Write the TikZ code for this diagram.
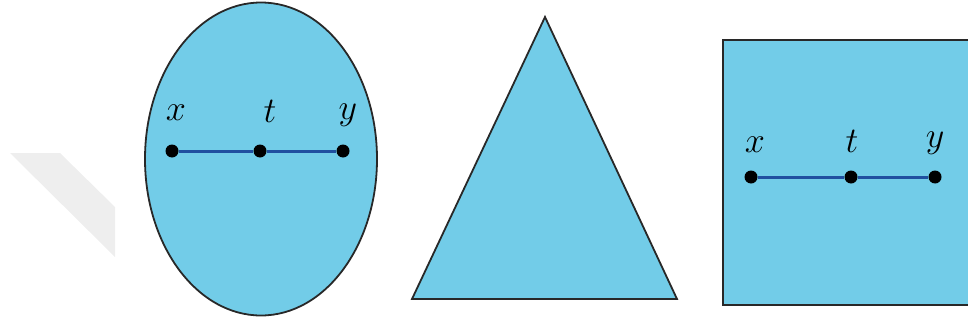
\documentclass[tikz,border=0pt]{standalone}
\usetikzlibrary{shapes.geometric}
\definecolor{shapefill}{RGB}{114,204,232}
\definecolor{segblue}{RGB}{32,80,160}
\definecolor{outline}{RGB}{40,40,40}
\definecolor{wmark}{RGB}{238,238,238}
\tikzset{
  shapebox/.style={draw=outline, line width=1.8pt, fill=shapefill},
  pointdot/.style={circle, fill=black, inner sep=0pt, minimum size=13pt},
  seg/.style={draw=segblue, line width=3pt},
  lbl/.style={inner sep=0pt, font=\Huge, scale=1.45, transform shape}
}
\begin{document}
\begin{tikzpicture}[x=1pt,y=-1pt]
\useasboundingbox (0,0) rectangle (968,324);
\clip (0,0) rectangle (968,324);
% faint watermark
\fill[wmark] (10,153) -- (60,153) -- (115,207) -- (115,257) -- cycle;
% ellipse
\node[shapebox, ellipse, minimum width=232pt, minimum height=313pt, inner sep=0pt] (ell) at (261,159) {};
\node[pointdot] (ex) at (172,151) {};
\node[pointdot] (et) at (260,151) {};
\node[pointdot] (ey) at (343,151) {};
\draw[seg] (ex) -- (et);
\draw[seg] (et) -- (ey);
\node[lbl] (exl) at (176,113) {$x$};
\node[lbl] (etl) at (270,111) {$t$};
\node[lbl] (eyl) at (348,115) {$y$};
% triangle
\draw[shapebox, line join=miter] (545,17) -- (677,299) -- (412,299) -- cycle;
% rectangle
\draw[shapebox] (723,40) rectangle (1000,305);
\node[pointdot] (rx) at (751,177) {};
\node[pointdot] (rt) at (851,177) {};
\node[pointdot] (ry) at (935,177) {};
\draw[seg] (rx) -- (rt);
\draw[seg] (rt) -- (ry);
\node[lbl] (rxl) at (755,145) {$x$};
\node[lbl] (rtl) at (852,141) {$t$};
\node[lbl] (ryl) at (935,143) {$y$};
\end{tikzpicture}
\end{document}
